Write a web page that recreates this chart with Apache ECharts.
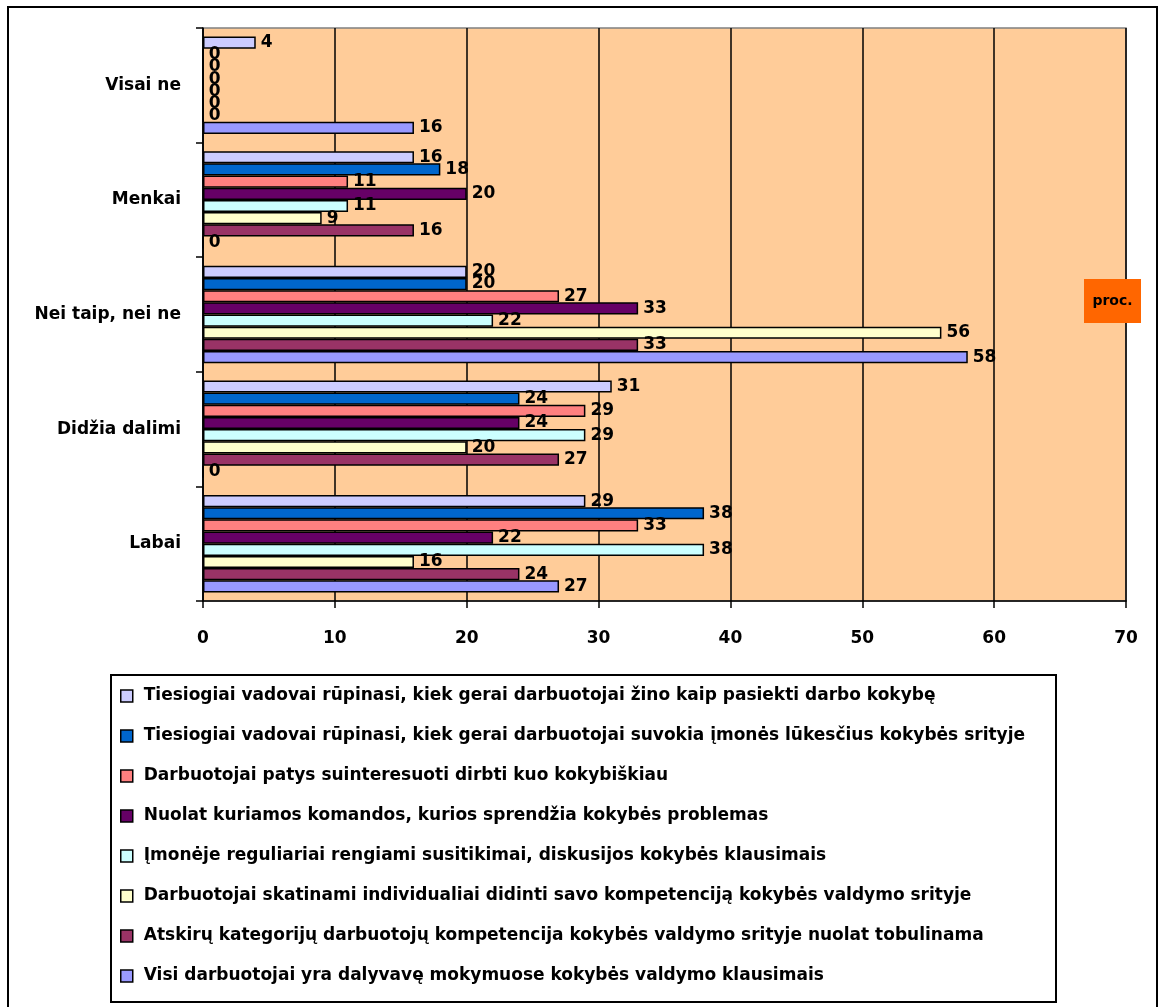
<!DOCTYPE html>
<html>
<head>
<meta charset="utf-8">
<script src="https://cdn.jsdelivr.net/npm/echarts@6/dist/echarts.min.js"></script>
<style>
  html, body { margin: 0; padding: 0; background: #fff; }
  #chart { width: 1159px; height: 1007px; }
</style>
</head>
<body>
<div id="chart"></div>
<script>
// Answer categories, listed top to bottom
const categories = ['Visai ne', 'Menkai', 'Nei taip, nei ne', 'Didžia dalimi', 'Labai'];

const seriesNames = [
  'Tiesiogiai vadovai rūpinasi, kiek gerai darbuotojai žino kaip pasiekti darbo kokybę',
  'Tiesiogiai vadovai rūpinasi, kiek gerai darbuotojai suvokia įmonės lūkesčius kokybės srityje',
  'Darbuotojai patys suinteresuoti dirbti kuo kokybiškiau',
  'Nuolat kuriamos komandos, kurios sprendžia kokybės problemas',
  'Įmonėje reguliariai rengiami susitikimai, diskusijos kokybės klausimais',
  'Darbuotojai skatinami individualiai didinti savo kompetenciją kokybės valdymo srityje',
  'Atskirų kategorijų darbuotojų kompetencija kokybės valdymo srityje nuolat tobulinama',
  'Visi darbuotojai yra dalyvavę mokymuose kokybės valdymo klausimais'
];

// Percent values per statement, in category order
const vadovaiZino      = [4, 16, 20, 31, 29];
const vadovaiSuvokia   = [0, 18, 20, 24, 38];
const patysSuinteres   = [0, 11, 27, 29, 33];
const komandos         = [0, 20, 33, 24, 22];
const susitikimai      = [0, 11, 22, 29, 38];
const kompetencija     = [0, 9, 56, 20, 16];
const kategorijos      = [0, 16, 33, 27, 24];
const mokymai          = [16, 0, 58, 0, 27];

const seriesValues = [vadovaiZino, vadovaiSuvokia, patysSuinteres, komandos,
                      susitikimai, kompetencija, kategorijos, mokymai];

const seriesColors = ['#CCCCFF', '#0066CC', '#FF8080', '#660066',
                      '#CCFFFF', '#FFFFCC', '#993366', '#9999FF'];

const xTicks = { min: 0, max: 70, interval: 10 };

const FONT = '"DejaVu Sans"';

const chart = echarts.init(document.getElementById('chart'), null, { renderer: 'canvas' });

const series = seriesNames.map((name, i) => ({
  name: name,
  type: 'bar',
  data: seriesValues[i],
  barGap: '0%',
  barCategoryGap: '15%',
  itemStyle: { color: seriesColors[i], borderColor: '#000', borderWidth: 1.5 },
  label: {
    show: true,
    position: 'right',
    distance: 5,
    color: '#000',
    fontFamily: FONT,
    fontWeight: 'bold',
    fontSize: 17
  },
  emphasis: { disabled: true }
}));

chart.setOption({
  animation: false,
  backgroundColor: '#fff',
  grid: {
    left: 203, right: 33, top: 28, bottom: 406,
    show: true,
    backgroundColor: '#FFCC99',
    borderColor: '#808080',
    borderWidth: 1.5
  },
  xAxis: {
    type: 'value',
    min: xTicks.min, max: xTicks.max, interval: xTicks.interval,
    axisLine: { show: true, lineStyle: { color: '#000', width: 1.5 } },
    axisTick: { show: true, length: 7, lineStyle: { color: '#000', width: 1.5 } },
    axisLabel: { color: '#000', fontFamily: FONT, fontWeight: 'bold', fontSize: 17, margin: 29 },
    splitLine: { show: true, lineStyle: { color: '#000', width: 1.5 } }
  },
  yAxis: {
    type: 'category',
    data: categories,
    inverse: true,
    axisLine: { show: true, lineStyle: { color: '#000', width: 1.5 } },
    axisTick: { show: true, length: 7, lineStyle: { color: '#000', width: 1.5 } },
    axisLabel: { color: '#000', fontFamily: FONT, fontWeight: 'bold', fontSize: 17, margin: 22 },
    splitLine: { show: false }
  },
  legend: {
    orient: 'vertical',
    left: 120,
    top: 686,
    padding: 0,
    itemWidth: 12,
    itemHeight: 12,
    itemGap: 20,
    icon: 'rect',
    itemStyle: { borderColor: '#000', borderWidth: 1.5 },
    textStyle: { color: '#000', fontFamily: FONT, fontWeight: 'bold', fontSize: 17, lineHeight: 20, padding: [0, 0, 0, 6] },
    data: seriesNames,
    selectedMode: false
  },
  graphic: [
    {
      type: 'rect',
      shape: { x: 8, y: 7, width: 1149, height: 1010 },
      style: { fill: 'none', stroke: '#000', lineWidth: 2 },
      silent: true, z: -1
    },
    {
      type: 'rect',
      shape: { x: 111, y: 675, width: 945, height: 327 },
      style: { fill: 'none', stroke: '#000', lineWidth: 2 },
      silent: true
    },
    {
      type: 'rect',
      shape: { x: 1084, y: 279, width: 57, height: 44 },
      style: { fill: '#FF6600' },
      silent: true, z: 10
    },
    {
      type: 'text',
      x: 1112.5, y: 301,
      style: { text: 'proc.', fill: '#000', font: 'bold 14px "DejaVu Sans"', align: 'center', verticalAlign: 'middle' },
      silent: true, z: 11
    }
  ],
  series: series
});
</script>
</body>
</html>
